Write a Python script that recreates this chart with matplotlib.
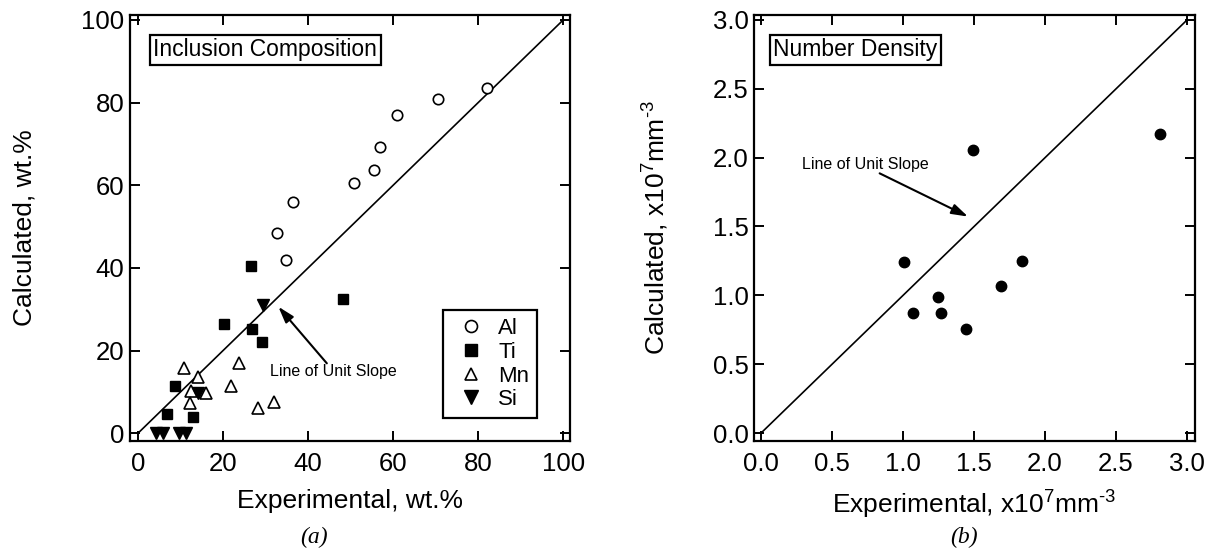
import matplotlib
matplotlib.use("Agg")
import matplotlib.pyplot as plt

plt.rcParams['font.family'] = ['Liberation Sans', 'DejaVu Sans']
plt.rcParams['mathtext.default'] = 'regular'

# (a) inclusion composition, wt.%
al_exp = [82.0, 70.5, 60.9, 56.8, 55.5, 50.8, 36.4, 32.6, 34.8]
al_calc = [83.5, 80.9, 77.1, 69.3, 63.7, 60.6, 56.0, 48.4, 41.9]
ti_exp = [26.5, 48.3, 20.3, 26.8, 29.2, 8.7, 6.8, 13.0]
ti_calc = [40.5, 32.4, 26.4, 25.2, 22.1, 11.4, 4.6, 3.9]
mn_exp = [10.9, 14.2, 23.8, 21.9, 12.5, 15.9, 12.2, 32.0, 28.1]
mn_calc = [15.7, 13.5, 16.9, 11.5, 10.2, 9.8, 7.2, 7.6, 6.0]
si_exp = [4.3, 5.8, 9.6, 11.2, 14.2, 29.4]
si_calc = [0.0, 0.0, 0.0, 0.0, 9.8, 31.0]

# (b) number density, x10^7 mm^-3
nd_exp = [2.81, 1.495, 1.009, 1.84, 1.69, 1.244, 1.073, 1.27, 1.444]
nd_calc = [2.169, 2.055, 1.24, 1.249, 1.068, 0.99, 0.869, 0.874, 0.755]

ticks_a = [0, 20, 40, 60, 80, 100]
ticks_b = [0.0, 0.5, 1.0, 1.5, 2.0, 2.5, 3.0]

fig = plt.figure(figsize=(12.16, 5.54), dpi=100)
ax1 = fig.add_axes([130/1216, 113/554, 440/1216, 426/554])
ax2 = fig.add_axes([754/1216, 113/554, 441/1216, 426/554])

arrow = dict(arrowstyle='-|>,head_length=0.7,head_width=0.22', lw=1.5,
             color='black', shrinkA=0, shrinkB=0, mutation_scale=14)
boxstyle = dict(boxstyle='square,pad=0.15', fc='white', ec='black', lw=1.6)


def style(ax, ticks, fmt):
    ax.set_xticks(ticks)
    ax.set_yticks(ticks)
    ax.set_xticklabels([fmt.format(t) for t in ticks])
    ax.set_yticklabels([fmt.format(t) for t in ticks])
    ax.tick_params(direction='in', top=True, right=True, length=7, width=1.4,
                   labelsize=18.5)
    ax.tick_params(axis='x', pad=8)
    ax.tick_params(axis='y', pad=4)
    for s in ax.spines.values():
        s.set_linewidth(1.6)


# ---- (a)
ax1.plot([0, 100], [0, 100], color='black', lw=1.2)
ax1.plot(al_exp, al_calc, 'o', ms=7.5, mfc='white', mec='black', mew=1.2, label='Al')
ax1.plot(ti_exp, ti_calc, 's', ms=7.5, mfc='black', mec='black', label='Ti')
ax1.plot(mn_exp, mn_calc, '^', ms=8, mfc='white', mec='black', mew=1.2, label='Mn')
ax1.plot(si_exp, si_calc, 'v', ms=8.5, mfc='black', mec='black', label='Si')
ax1.set_xlim(-1.9, 101.6)
ax1.set_ylim(-1.9, 101.2)
style(ax1, ticks_a, '{:.0f}')
ax1.set_xlabel('Experimental, wt.%', fontsize=19, labelpad=9)
ax1.set_ylabel('Calculated, wt.%', fontsize=19, labelpad=32)
ax1.text(0.053, 0.945, 'Inclusion Composition', transform=ax1.transAxes,
         fontsize=16.5, ha='left', va='top', bbox=boxstyle)
ax1.text(31.0, 14.8, 'Line of Unit Slope', fontsize=11.5, ha='left', va='center')
ax1.annotate('', xy=(33.0, 30.6), xytext=(44.4, 16.9), arrowprops=arrow)
leg = ax1.legend(loc='lower left', bbox_to_anchor=(0.711, 0.054), fontsize=16,
                 frameon=True, fancybox=False, edgecolor='black', framealpha=1,
                 labelspacing=0.12, handlelength=1.8, handletextpad=0.35,
                 borderpad=0.35, borderaxespad=0, markerscale=1.15)
leg.get_frame().set_linewidth(1.6)

# ---- (b)
ax2.plot([0, 3], [0, 3], color='black', lw=1.2)
ax2.plot(nd_exp, nd_calc, 'o', ms=7.5, mfc='black', mec='black')
ax2.set_xlim(-0.05, 3.056)
ax2.set_ylim(-0.058, 3.036)
style(ax2, ticks_b, '{:.1f}')
ax2.set_xlabel('Experimental, x10$^{7}$mm$^{\u2010 3}$', fontsize=19, labelpad=9)
ax2.set_ylabel('Calculated, x10$^{7}$mm$^{\u2010 3}$', fontsize=19, labelpad=30)
ax2.text(0.044, 0.945, 'Number Density', transform=ax2.transAxes,
         fontsize=16.5, ha='left', va='top', bbox=boxstyle)
ax2.text(0.287, 1.951, 'Line of Unit Slope', fontsize=11.5, ha='left', va='center')
ax2.annotate('', xy=(1.457, 1.572), xytext=(0.835, 1.886), arrowprops=arrow)

fig.text(314/1216, 1 - 537/554, '(a)', fontsize=17, style='italic',
         family='Liberation Serif', ha='center', va='center')
fig.text(964/1216, 1 - 537/554, '(b)', fontsize=17, style='italic',
         family='Liberation Serif', ha='center', va='center')

fig.savefig('out.png', dpi=100)
